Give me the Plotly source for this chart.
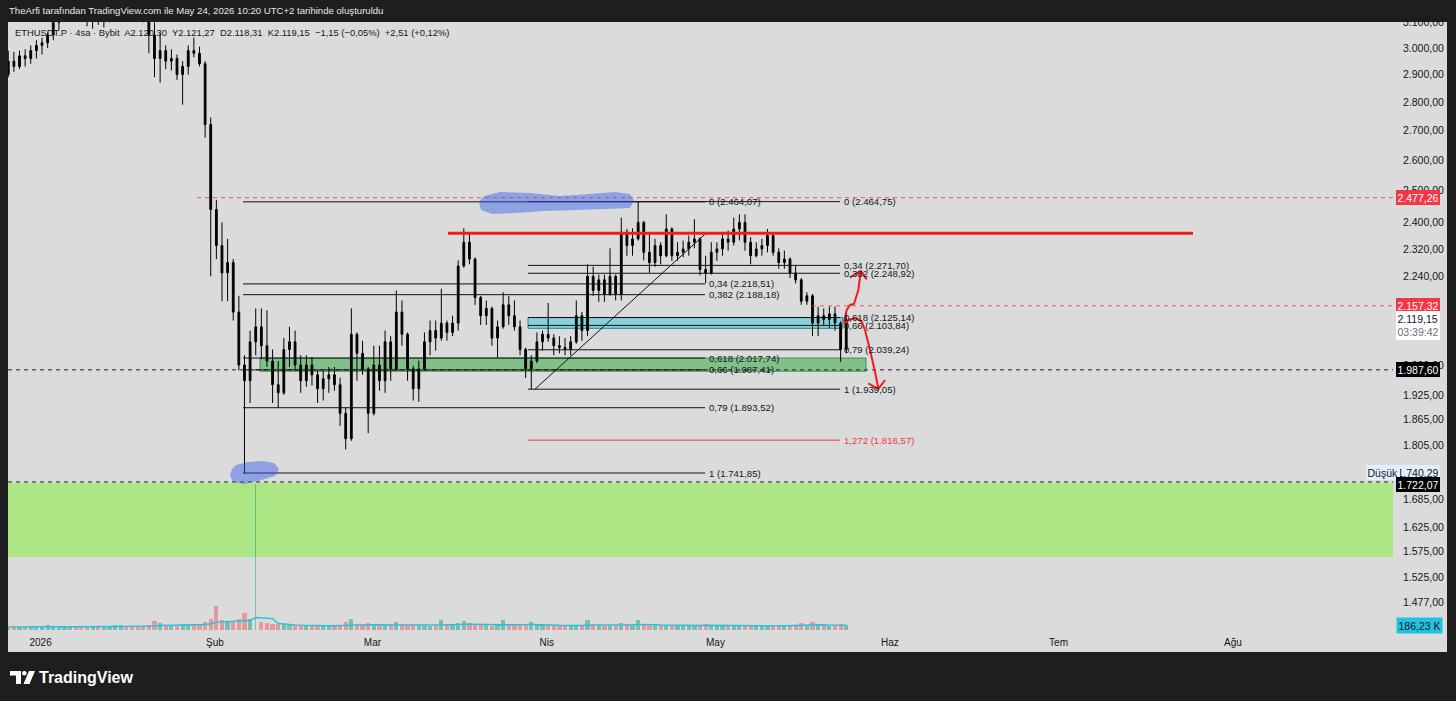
import math
import pandas as pd
import plotly.graph_objects as go

W, H = 1456, 701
PL, PR, PT, PB = 8, 1393, 22, 630   # price pane edges (px)

BG = "#dbdbdb"
DARK = "#1e1e1e"
INK = "#131722"
RED = "#f23645"

# ---- data (daily OHLC), first day 2025-12-26
first_day = "2025-12-26"
opens = [
    2900, 2950, 2930, 2970, 2960, 2990, 3010, 3020, 3050, 3100,
    3140, 3180, 3210, 3170, 3140, 3110, 3150, 3120, 3170, 3200,
    3260, 3300, 3250, 3200, 3160, 3120, 3050, 2960, 2990, 2950,
    2960, 2900, 2930, 2990, 2980, 2940, 2720, 2440, 2330, 2250,
    2280, 2140, 2000, 1960, 2060, 2100, 2050, 2010, 1950, 1930,
    2040, 2060, 2000, 1960, 2000, 1975, 1940, 1965, 1975, 1950,
    1880, 1820, 2080, 2030, 1990, 1880, 2000, 1960, 2060, 1990,
    2140, 2080, 1990, 1940, 1990, 2060, 2090, 2070, 2110, 2085,
    2110, 2270, 2340, 2290, 2180, 2130, 2150, 2070, 2100, 2160,
    2130, 2100, 2040, 1990, 2010, 2060, 2080, 2070, 2050, 2045,
    2040, 2060, 2130, 2090, 2240, 2200, 2230, 2190, 2240, 2190,
    2370, 2330, 2350, 2400, 2310, 2280, 2330, 2300, 2380, 2300,
    2310, 2320, 2340, 2350, 2260, 2250, 2310, 2320, 2350, 2340,
    2380, 2400, 2340, 2300, 2320, 2330, 2360, 2310, 2280, 2290,
    2250, 2230, 2170, 2185, 2110, 2130, 2120, 2135, 2110, 2040,
]
highs = [
    2990, 2985, 2990, 2995, 3010, 3030, 3040, 3060, 3110, 3160,
    3200, 3230, 3250, 3230, 3200, 3180, 3190, 3200, 3220, 3280,
    3320, 3350, 3330, 3280, 3200, 3150, 3100, 3060, 3010, 2995,
    2975, 2950, 3010, 3040, 3005, 2950, 2745, 2470, 2400, 2350,
    2290, 2185, 2025, 2090, 2150, 2150, 2145, 2040, 2010, 2070,
    2100, 2090, 2025, 2025, 2020, 1986, 1986, 1995, 1995, 1968,
    1895, 2150, 2085, 2063, 1995, 2050, 2050, 2090, 2075, 2200,
    2172, 2085, 1998, 2011, 2085, 2117, 2117, 2205, 2117, 2130,
    2286, 2382, 2368, 2295, 2185, 2172, 2155, 2117, 2195, 2185,
    2172, 2117, 2045, 2025, 2085, 2090, 2165, 2080, 2075, 2070,
    2075, 2172, 2140, 2275, 2268, 2245, 2245, 2322, 2245, 2415,
    2380, 2382, 2464.75, 2405, 2368, 2350, 2340, 2425, 2385, 2340,
    2345, 2360, 2410, 2355, 2300, 2340, 2340, 2368, 2375, 2415,
    2425, 2425, 2355, 2340, 2350, 2380, 2365, 2322, 2315, 2295,
    2270, 2235, 2195, 2190, 2155, 2150, 2155, 2155, 2115, 2140,
]
lows = [
    2890, 2910, 2920, 2930, 2940, 2960, 2975, 3000, 3030, 3070,
    3110, 3140, 3150, 3120, 3085, 3075, 3090, 3080, 3100, 3150,
    3200, 3220, 3180, 3140, 3100, 2980, 2890, 2870, 2920, 2915,
    2880, 2790, 2900, 2965, 2930, 2675, 2240, 2290, 2170, 2170,
    2117, 1986, 1740.29, 1905, 2025, 2015, 1995, 1905, 1893, 1925,
    1995, 1985, 1930, 1945, 1948, 1905, 1911, 1930, 1935, 1850,
    1795, 1815, 1960, 1975, 1833, 1875, 1935, 1930, 1960, 1985,
    2050, 1960, 1911, 1908, 1985, 2025, 2037, 2063, 2063, 2075,
    2090, 2265, 2275, 2160, 2105, 2105, 2050, 2020, 2095, 2105,
    2090, 2025, 1967, 1939.05, 2005, 2037, 2060, 2025, 2030, 2025,
    2025, 2055, 2063, 2075, 2185, 2168, 2168, 2185, 2172, 2172,
    2300, 2300, 2345, 2286, 2250, 2268, 2275, 2295, 2285, 2285,
    2295, 2300, 2322, 2243, 2220, 2245, 2285, 2300, 2315, 2330,
    2345, 2315, 2275, 2295, 2300, 2310, 2300, 2262, 2262, 2235,
    2220, 2160, 2160, 2075, 2075, 2105, 2097, 2090, 2008, 2030,
]
closes = [
    2950, 2930, 2970, 2960, 2990, 3010, 3020, 3050, 3100, 3140,
    3180, 3210, 3170, 3140, 3110, 3150, 3120, 3170, 3200, 3260,
    3300, 3250, 3200, 3160, 3120, 3050, 2960, 2990, 2950, 2960,
    2900, 2930, 2990, 2980, 2940, 2720, 2440, 2330, 2250, 2280,
    2140, 2000, 1960, 2060, 2100, 2050, 2010, 1950, 1930, 2040,
    2060, 2000, 1960, 2000, 1975, 1940, 1965, 1975, 1950, 1880,
    1820, 2080, 2030, 1990, 1880, 2000, 1960, 2060, 1990, 2140,
    2080, 1990, 1940, 1990, 2060, 2090, 2070, 2110, 2085, 2110,
    2270, 2340, 2290, 2180, 2130, 2150, 2070, 2100, 2160, 2130,
    2100, 2040, 1990, 2010, 2060, 2080, 2070, 2050, 2045, 2040,
    2060, 2130, 2090, 2240, 2200, 2230, 2190, 2240, 2190, 2370,
    2330, 2350, 2400, 2310, 2280, 2330, 2300, 2380, 2300, 2310,
    2320, 2340, 2350, 2260, 2250, 2310, 2320, 2350, 2340, 2380,
    2400, 2340, 2300, 2320, 2330, 2360, 2310, 2280, 2290, 2250,
    2230, 2170, 2185, 2110, 2130, 2120, 2135, 2110, 2040, 2119.15,
]
# volume (thousands) and its moving average, read per day
volume_k = [
    120, 140, 110, 150, 130, 160, 140, 200, 130, 120,
    150, 130, 110, 140, 120, 130, 160, 140, 120, 170,
    200, 150, 130, 120, 140, 180, 330, 260, 160, 170,
    150, 230, 190, 170, 210, 280, 420, 900, 380, 300,
    340, 420, 640, 420, 5400, 300, 260, 240, 220, 230,
    210, 190, 180, 170, 160, 150, 150, 140, 160, 200,
    280, 420, 230, 180, 250, 210, 190, 180, 170, 300,
    240, 190, 220, 190, 170, 160, 170, 380, 200, 180,
    250, 330, 260, 220, 180, 170, 160, 200, 380, 190,
    180, 210, 240, 290, 200, 180, 190, 160, 150, 150,
    160, 200, 180, 360, 220, 190, 180, 200, 170, 260,
    210, 190, 380, 240, 200, 180, 170, 190, 160, 150,
    150, 160, 180, 200, 210, 170, 160, 150, 150, 170,
    180, 200, 170, 160, 150, 160, 150, 160, 170, 180,
    200, 250, 190, 280, 220, 170, 160, 170, 220, 186.23,
]
volume_ma_k = [
    115, 118, 116, 118, 120, 122, 124, 128, 126, 124,
    124, 122, 120, 118, 118, 120, 122, 124, 126, 128,
    132, 134, 132, 130, 130, 134, 150, 165, 170, 172,
    170, 175, 182, 185, 190, 205, 230, 290, 300, 305,
    310, 320, 340, 350, 460, 450, 440, 420, 240, 215,
    200, 190, 180, 170, 165, 160, 158, 156, 158, 165,
    180, 195, 200, 195, 200, 195, 190, 185, 180, 190,
    195, 190, 188, 185, 180, 175, 175, 190, 195, 192,
    198, 210, 215, 210, 200, 190, 180, 182, 195, 195,
    190, 192, 198, 205, 205, 200, 195, 185, 175, 165,
    160, 165, 168, 185, 190, 188, 185, 186, 184, 195,
    198, 196, 210, 212, 208, 198, 185, 180, 175, 168,
    160, 158, 160, 168, 175, 172, 168, 162, 158, 158,
    162, 168, 166, 162, 158, 156, 155, 156, 160, 165,
    172, 185, 188, 195, 200, 192, 180, 172, 180, 182,
]

left_fib_levels = ["0", "0,34", "0,382", "0,618", "0,66", "0,79", "1"]
left_fib_prices = [2464.07, 2218.51, 2188.18, 2017.74, 1987.41, 1893.52, 1741.85]
right_fib_levels = ["0", "0,34", "0,382", "0,618", "0,66", "0,79", "1", "1,272"]
right_fib_prices = [2464.75, 2271.70, 2248.92, 2125.14, 2103.84, 2039.24, 1939.05, 1816.57]

resistance = 2367
alert_high, alert_mid = 2477.26, 2157.32
line_low1, line_low2 = 1987.60, 1722.07
period_low = 1740.29
last_price = 2119.15
demand_zone = (1564.6, 1720.0)
green_zone = (1984.0, 2017.74)
cyan_zone = (2096.0, 2125.14)

price_ticks = [3100, 3000, 2900, 2800, 2700, 2600, 2500, 2400, 2320, 2240,
               2000, 1925, 1865, 1805, 1685, 1625, 1575, 1525, 1477]
month_ticks = ["2026-01-01", "2026-02-01", "2026-03-01", "2026-04-01",
               "2026-05-01", "2026-06-01", "2026-07-01", "2026-08-01"]
month_labels = ["2026", "Şub", "Mar", "Nis", "May", "Haz", "Tem", "Ağu"]


def tr(v):
    return f"{v:,.2f}".replace(",", "#").replace(".", ",").replace("#", ".")


# ---- pixel helpers for drawings
def X(px):
    return (px - PL) / (PR - PL)


def Y(py):
    return (PB - py) / (PB - PT)


PX_PER_DAY = 5.624
JAN1_PX = 40.6
DAY_MS = 86400000


def D(px):
    return pd.Timestamp("2026-01-01") + pd.Timedelta(days=(px - JAN1_PX) / PX_PER_DAY)


def ppath(points, close=True):
    s = "M " + " L ".join(f"{X(a):.5f},{Y(b):.5f}" for a, b in points)
    return s + (" Z" if close else "")


dates = pd.date_range(first_day, periods=len(opens), freq="D") + pd.Timedelta(hours=6)
vol_colors = ["rgba(8,153,129,0.45)" if c >= o else "rgba(242,54,69,0.4)"
              for o, c in zip(opens, closes)]
# single huge 4h bar is drawn as a thin spike
vol_width = [0.2 * DAY_MS if v > 2000 else 0.75 * DAY_MS for v in volume_k]

fig = go.Figure()
fig.add_trace(go.Bar(
    x=dates, y=volume_k, yaxis="y2", marker_color=vol_colors,
    marker_line_width=0, width=vol_width, showlegend=False, hoverinfo="skip"))
fig.add_trace(go.Scatter(
    x=dates, y=volume_ma_k, yaxis="y2", mode="lines",
    line=dict(color="#22c3df", width=1.4), showlegend=False, hoverinfo="skip"))
fig.add_trace(go.Candlestick(
    x=dates, open=opens, high=highs, low=lows, close=closes,
    increasing=dict(line=dict(color="#000000", width=1), fillcolor="#000000"),
    decreasing=dict(line=dict(color="#000000", width=1), fillcolor="#000000"),
    whiskerwidth=0, showlegend=False))

x_end = D(PR)
shapes = []
# panel background incl. axis strips
shapes.append(dict(type="rect", xref="paper", yref="paper", x0=X(8), x1=X(1447),
                   y0=Y(652), y1=Y(22), fillcolor=BG, line_width=0, layer="below"))
# demand zone
shapes.append(dict(type="rect", xref="paper", yref="y", x0=0, x1=1,
                   y0=demand_zone[0], y1=demand_zone[1], fillcolor="#abe584",
                   line_width=0, layer="below"))
# green and cyan boxes
shapes.append(dict(type="rect", xref="x", yref="y", x0=D(260), x1=D(866),
                   y0=green_zone[0], y1=green_zone[1], fillcolor="rgba(56,168,70,0.55)",
                   line=dict(color="rgba(40,130,50,0.8)", width=1), layer="below"))
shapes.append(dict(type="rect", xref="x", yref="y", x0=D(528), x1=D(843),
                   y0=cyan_zone[0], y1=cyan_zone[1], fillcolor="rgba(0,190,215,0.38)",
                   line=dict(color="rgba(0,130,150,0.9)", width=1), layer="below"))
# dashed horizontals
for p, col, x0 in [(alert_high, "rgba(242,54,69,0.8)", D(197)),
                   (alert_mid, "rgba(242,54,69,0.8)", D(812)),
                   (line_low1, "#222222", D(8)),
                   (line_low2, "#222222", D(8))]:
    shapes.append(dict(type="line", xref="x", yref="y", x0=x0, x1=x_end, y0=p, y1=p,
                       line=dict(color=col, width=1, dash="4px,4px")))
# fib levels
for p in left_fib_prices:
    shapes.append(dict(type="line", xref="x", yref="y", x0=D(243), x1=D(705), y0=p, y1=p,
                       line=dict(color="#111111", width=1)))
for lvl, p in zip(right_fib_levels, right_fib_prices):
    col = RED if lvl == "1,272" else "#111111"
    shapes.append(dict(type="line", xref="x", yref="y", x0=D(528), x1=D(840), y0=p, y1=p,
                       line=dict(color=col, width=1)))
# fib trend line
shapes.append(dict(type="line", xref="x", yref="y", x0=D(535), x1=D(706),
                   y0=right_fib_prices[6], y1=resistance,
                   line=dict(color="#111111", width=1)))
# resistance
shapes.append(dict(type="line", xref="x", yref="y", x0=D(448), x1=D(1193),
                   y0=resistance, y1=resistance, line=dict(color="#f21c1c", width=3)))
# blue highlights
blob_top = [(484, 196), (500, 192), (530, 193), (560, 196), (590, 194), (615, 192),
            (630, 194), (634, 201), (630, 208), (605, 209), (575, 210), (545, 211),
            (515, 213), (492, 214), (481, 210), (479, 202)]
blob_low = [(236, 465), (248, 462), (262, 461), (274, 463), (279, 469), (275, 476),
            (258, 481), (244, 484), (233, 482), (230, 475), (232, 469)]
for b in (blob_top, blob_low):
    shapes.append(dict(type="path", xref="paper", yref="paper", path=ppath(b),
                       fillcolor="rgba(50,90,235,0.45)", line_width=0))
# red hand-drawn arrows
arrow_up = [(844, 322), (846.7, 310), (850, 305), (854, 304), (858.3, 290), (860.7, 272)]
head_up = [(850, 277.3), (860.7, 271), (866.7, 279.3)]
arrow_dn = [(844, 324), (850, 319.3), (856.7, 318.3), (861.7, 321.7), (865, 330),
            (870, 350), (875, 371.7), (878.3, 388.3)]
head_dn = [(868.3, 383.3), (878.3, 389), (885, 380)]
for a in (arrow_up, head_up, arrow_dn, head_dn):
    shapes.append(dict(type="path", xref="paper", yref="paper", path=ppath(a, close=False),
                       line=dict(color="#f21c1c", width=2)))
# TradingView logo
shapes.append(dict(type="path", xref="paper", yref="paper",
                   path=ppath([(10, 671), (21, 671), (21, 684), (16, 684), (16, 675.5), (10, 675.5)]),
                   fillcolor="white", line_width=0))
shapes.append(dict(type="circle", xref="paper", yref="paper", x0=X(22), x1=X(26.6),
                   y0=Y(675.6), y1=Y(671), fillcolor="white", line_width=0))
shapes.append(dict(type="path", xref="paper", yref="paper",
                   path=ppath([(29, 671), (35, 671), (29.5, 684), (23.5, 684)]),
                   fillcolor="white", line_width=0))

ann = []
FONT = "Liberation Sans, Arial, sans-serif"
for lvl, p in zip(left_fib_levels, left_fib_prices):
    ann.append(dict(x=D(707), y=math.log10(p), xref="x", yref="y", xanchor="left",
                    yanchor="middle", showarrow=False, text=f"{lvl} ({tr(p)})",
                    font=dict(size=9.6, color=INK, family=FONT)))
for lvl, p in zip(right_fib_levels, right_fib_prices):
    col = RED if lvl == "1,272" else INK
    ann.append(dict(x=D(842), y=math.log10(p), xref="x", yref="y", xanchor="left",
                    yanchor="middle", showarrow=False, text=f"{lvl} ({tr(p)})",
                    font=dict(size=9.6, color=col, family=FONT)))


def price_box(p, text, bg, fg, px=1396, shift=0):
    return dict(x=X(px), y=math.log10(p), xref="paper", yref="y", xanchor="left",
                yanchor="middle", yshift=shift, showarrow=False, text=text, align="left",
                bgcolor=bg, borderpad=1.5, borderwidth=0,
                font=dict(size=10.5, color=fg, family=FONT))


ann.append(price_box(alert_high, tr(alert_high), RED, "white"))
ann.append(price_box(alert_mid, tr(alert_mid), RED, "white"))
ann.append(price_box(last_price, tr(last_price) + "<br><span style='color:#6a6d78'>03:39:42</span>",
                     "#ffffff", INK, shift=-6))
ann.append(price_box(line_low1, tr(line_low1), "#000000", "white"))
ann.append(price_box(period_low, tr(period_low), "#e3eefb", INK, shift=1))
ann.append(price_box(period_low, "Düşük", "#e3eefb", INK, px=1366, shift=1))
ann.append(price_box(line_low2, tr(line_low2), "#000000", "white", shift=-3))
ann.append(dict(x=X(1396), y=Y(625), xref="paper", yref="paper", xanchor="left",
                yanchor="middle", showarrow=False, text="186,23 K", bgcolor="#22c3df",
                borderpad=1.5, font=dict(size=10.5, color=INK, family=FONT)))
# header / legend / footer
ann.append(dict(x=X(7), y=Y(11), xref="paper", yref="paper", xanchor="left", yanchor="middle",
                showarrow=False,
                text="TheArfi tarafından TradingView.com ile May 24, 2026 10:20 UTC+2 tarihinde oluşturuldu",
                font=dict(size=9.6, color="#e8e8e8", family=FONT)))
ann.append(dict(x=X(13), y=Y(33), xref="paper", yref="paper", xanchor="left", yanchor="middle",
                showarrow=False,
                text="ETHUSDT.P · 4sa · Bybit  A2.120,30  Y2.121,27  D2.118,31  K2.119,15  "
                     "−1,15 (−0,05%)  +2,51 (+0,12%)",
                font=dict(size=9.4, color=INK, family=FONT)))
ann.append(dict(x=X(37), y=Y(677), xref="paper", yref="paper", xanchor="left", yanchor="middle",
                showarrow=False, text="<b>TradingView</b>",
                font=dict(size=16, color="white", family=FONT)))

# log-price axis: 3000 at y=48px, 1800 px per decade
y_top = math.log10(3000) + (48 - PT) / 1800
y_bot = math.log10(3000) - (PB - 48) / 1800

fig.update_layout(
    width=W, height=H,
    margin=dict(l=PL, r=W - PR, t=PT, b=H - PB),
    paper_bgcolor=DARK, plot_bgcolor=BG,
    shapes=shapes, annotations=ann,
    font=dict(family=FONT, color=INK),
    xaxis=dict(range=[D(PL), D(PR)], type="date", showgrid=False, zeroline=False,
               rangeslider=dict(visible=False), tickmode="array",
               tickvals=month_ticks, ticktext=month_labels, ticks="",
               ticklabelstandoff=5,
               tickfont=dict(size=10, color=INK), showline=False, fixedrange=True),
    yaxis=dict(type="log", range=[y_bot, y_top], side="right", showgrid=False,
               zeroline=False, tickmode="array", tickvals=price_ticks,
               ticktext=[tr(v) for v in price_ticks], ticks="", ticklabelstandoff=9,
               tickfont=dict(size=10.5, color=INK), showline=False),
    yaxis2=dict(overlaying="y", range=[0, 22500], visible=False, fixedrange=True),
    bargap=0, boxgap=0.55, showlegend=False,
)

fig.write_html("out.html", config={"displayModeBar": False},
               post_script="document.body.style.margin='0';"
                           "document.body.style.background='#1e1e1e';")
